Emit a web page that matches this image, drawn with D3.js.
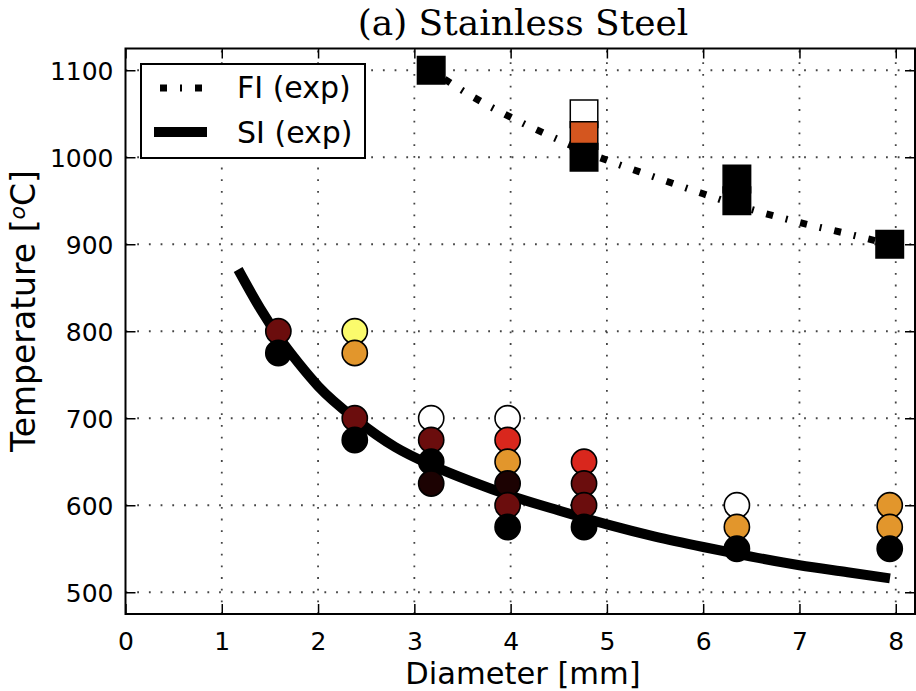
<!DOCTYPE html>
<html><head><meta charset="utf-8">
<script src="https://cdn.jsdelivr.net/npm/d3@7"></script>
<style>body{margin:0;background:#fff}svg{display:block}</style>
</head><body>
<svg id="c" width="916" height="691"></svg>
<script>
// ---- data ----
const xTicks = [0,1,2,3,4,5,6,7,8];
const yTicks = [500,600,700,800,900,1000,1100];
const colorMap = {white:"#ffffff", yellow:"#fbfb6c", orange:"#e2962c", red:"#d9271d", darkred:"#6b0d0d", darkest:"#1c0202", black:"#000000", orangered:"#d4561f"};
// SI (exp) circles: diameter, temperature, colour key
const siDiam  = [1.5875,1.5875, 2.38125,2.38125,2.38125,2.38125, 3.175,3.175,3.175,3.175, 3.96875,3.96875,3.96875,3.96875,3.96875,3.96875, 4.7625,4.7625,4.7625,4.7625, 6.35,6.35,6.35, 7.9375,7.9375,7.9375];
const siTemp  = [800,775, 800,775,700,675, 700,675,650,625, 700,675,650,625,600,575, 650,625,600,575, 600,575,550, 600,575,550];
const siColor = ["darkred","black", "yellow","orange","darkred","black", "white","darkred","black","darkest", "white","red","orange","darkest","darkred","black", "red","darkred","darkred","black", "white","orange","black", "orange","orange","black"];
// FI (exp) squares
const fiDiam  = [3.175, 4.7625,4.7625,4.7625, 6.35,6.35, 7.9375];
const fiTemp  = [1100, 1050,1025,1000, 975,950, 900];
const fiColor = ["black", "white","orangered","black", "black","black", "black"];
// fitted curves
const siCurveD = [1.17,1.4,1.6,1.8,2.0,2.4,2.8,3.2,3.6,4.0,4.5,5.0,5.5,6.0,6.5,7.0,7.5,7.94];
const siCurveT = [871,826,792,763,737,698,667,645,627,611,594,578,564,552,541,531,523,516];
const fiCurveD = [3.175,3.6,4.0,4.5,4.7625,5.5,6.0,6.35,7.0,7.5,7.94];
const fiCurveT = [1100,1070,1046,1020,1007,977,958,945,925,912,900];

// ---- layout ----
const L=125.5, R=915, T=48.5, B=614;
const svg = d3.select("#c");
const x = d3.scaleLinear().domain([0,8.2]).range([L,R]);
const y = d3.scaleLinear().domain([475,1125]).range([B,T]);
const sans = "DejaVu Sans, sans-serif";

// grid
const grid = svg.append("g").attr("stroke","#444").attr("stroke-width",1.8).attr("stroke-dasharray","1.8,9.9");
xTicks.filter(t=>t>0).forEach(t=>grid.append("line").attr("x1",x(t)).attr("x2",x(t)).attr("y1",B).attr("y2",T));
yTicks.forEach(t=>grid.append("line").attr("y1",y(t)).attr("y2",y(t)).attr("x1",L).attr("x2",R));

// curves
const line = d3.line().x(d=>x(d[0])).y(d=>y(d[1])).curve(d3.curveMonotoneX);
svg.append("path").datum(siCurveD.map((d,i)=>[d,siCurveT[i]]))
  .attr("d",line).attr("fill","none").attr("stroke","#000").attr("stroke-width",10);
svg.append("path").datum(fiCurveD.map((d,i)=>[d,fiCurveT[i]]))
  .attr("d",line).attr("fill","none").attr("stroke","#000").attr("stroke-width",7)
  .attr("stroke-dasharray","7,13,2,13").attr("stroke-dashoffset",-16);

// squares
const S=27.5;
svg.append("g").selectAll("rect").data(fiDiam.map((d,i)=>({d,t:fiTemp[i],c:fiColor[i]}))).join("rect")
  .attr("x",p=>x(p.d)-S/2).attr("y",p=>y(p.t)-S/2).attr("width",S).attr("height",S)
  .attr("fill",p=>colorMap[p.c]).attr("stroke","#000").attr("stroke-width",1.5);

// circles
svg.append("g").selectAll("circle").data(siDiam.map((d,i)=>({d,t:siTemp[i],c:siColor[i]}))).join("circle")
  .attr("cx",p=>x(p.d)).attr("cy",p=>y(p.t)).attr("r",12.6)
  .attr("fill",p=>colorMap[p.c]).attr("stroke","#000").attr("stroke-width",1.6);

// axes (inward ticks on all sides)
const tickLen=10;
const axB = svg.append("g").attr("transform",`translate(0,${B})`).call(d3.axisBottom(x).tickValues(xTicks).tickSize(-tickLen).tickPadding(12).tickFormat(d3.format("d")));
const axT = svg.append("g").attr("transform",`translate(0,${T})`).call(d3.axisTop(x).tickValues(xTicks).tickSize(-tickLen).tickFormat(""));
const axL = svg.append("g").attr("transform",`translate(${L},0)`).call(d3.axisLeft(y).tickValues(yTicks).tickSize(-tickLen).tickPadding(12).tickFormat(d3.format("d")));
const axR = svg.append("g").attr("transform",`translate(${R},0)`).call(d3.axisRight(y).tickValues(yTicks).tickSize(-tickLen).tickFormat(""));
[axB,axT,axL,axR].forEach(a=>{
  a.select(".domain").remove();
  a.selectAll(".tick line").attr("stroke","#000").attr("stroke-width",1.5);
  a.selectAll(".tick text").attr("fill","#000").attr("font-family",sans).attr("font-size",25);
});
axB.selectAll(".tick text").attr("dy","0.95em");
axL.selectAll(".tick text").attr("dy","0.36em");
svg.append("rect").attr("x",L).attr("y",T).attr("width",R-L).attr("height",B-T)
  .attr("fill","none").attr("stroke","#000").attr("stroke-width",2);

// title and labels
svg.append("text").attr("x",523).attr("y",35).attr("text-anchor","middle")
  .attr("font-family","DejaVu Serif, serif").attr("font-size",36).text("(a) Stainless Steel");
svg.append("text").attr("x",523).attr("y",684).attr("text-anchor","middle")
  .attr("font-family",sans).attr("font-size",30.5).text("Diameter [mm]");
const yl = svg.append("text").attr("transform",`translate(35,311) rotate(-90)`).attr("text-anchor","middle")
  .attr("font-family",sans).attr("font-size",33);
yl.append("tspan").text("Temperature [");
yl.append("tspan").attr("font-style","italic").attr("font-size",22).attr("dy",-10).text("o");
yl.append("tspan").attr("dy",10).text("C]");

// legend
const lg = svg.append("g");
lg.append("rect").attr("x",141).attr("y",64).attr("width",224).attr("height",94)
  .attr("fill","#fff").attr("stroke","#000").attr("stroke-width",2);
lg.append("line").attr("x1",160).attr("x2",202).attr("y1",88).attr("y2",88)
  .attr("stroke","#000").attr("stroke-width",7).attr("stroke-dasharray","7,13,2,13");
lg.append("line").attr("x1",154).attr("x2",207).attr("y1",132).attr("y2",132)
  .attr("stroke","#000").attr("stroke-width",10);
lg.append("text").attr("x",237).attr("y",98).attr("font-family",sans).attr("font-size",30).text("FI (exp)");
lg.append("text").attr("x",237).attr("y",143).attr("font-family",sans).attr("font-size",30).text("SI (exp)");
</script>
</body></html>
